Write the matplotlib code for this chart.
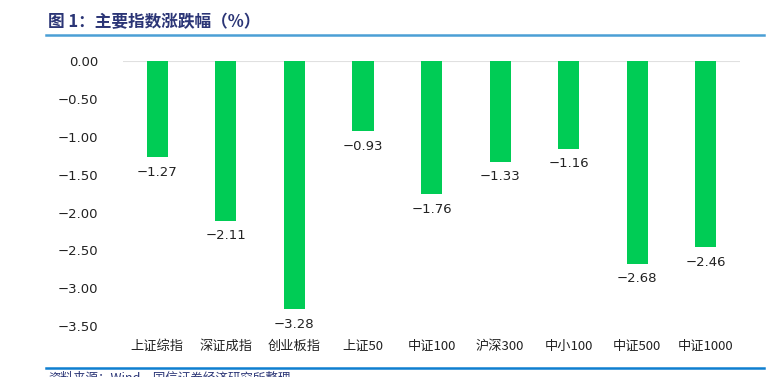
import matplotlib.pyplot as plt
from matplotlib.lines import Line2D

plt.rcParams['font.family'] = ['Noto Sans CJK SC', 'DejaVu Sans']
plt.rcParams['axes.unicode_minus'] = True

# 主要指数涨跌幅数据
categories = ['上证综指', '深证成指', '创业板指', '上证50', '中证100',
              '沪深300', '中小100', '中证500', '中证1000']
changes = [-1.27, -2.11, -3.28, -0.93, -1.76, -1.33, -1.16, -2.68, -2.46]
yticks = [0, -0.5, -1.0, -1.5, -2.0, -2.5, -3.0, -3.5]


def fmt(v):
    s = f'{v:.2f}'
    return s.replace('-', '\u2212') if v < 0 else s


fig = plt.figure(figsize=(7.75, 3.77), dpi=100)
ax = fig.add_axes([0.1587, 0.135, 0.7963, 0.703])

x = range(len(categories))
ax.bar(x, changes, width=0.31, color='#00CC55', zorder=2)
ax.axhline(0, color='#E0E0E0', linewidth=1.5, zorder=1)

for i, v in zip(x, changes):
    ax.annotate(fmt(v), (i, v), xytext=(0, -6), textcoords='offset points',
                ha='center', va='top', fontsize=9.5, color='#222222',
                family=['DejaVu Sans'])

ax.set_xlim(-0.5, len(categories) - 0.5)
ax.set_ylim(-3.5, 0)
ax.set_yticks(yticks)
ax.set_yticklabels([fmt(t) for t in yticks], fontsize=9.5, color='#222222',
                   family=['DejaVu Sans'])
ax.set_xticks(list(x))
ax.set_xticklabels(categories, fontsize=9.5, color='#222222')
ax.tick_params(axis='both', length=0)
ax.tick_params(axis='y', pad=18)
ax.tick_params(axis='x', pad=10)
for s in ax.spines.values():
    s.set_visible(False)

# 标题和上下分隔线
fig.text(48 / 775, 1 - 22 / 377, '图 1：主要指数涨跌幅（%）', fontsize=12,
         fontweight='bold', color='#2B3576', va='center', ha='left')
fig.add_artist(Line2D([46 / 775, 764 / 775], [1 - 35 / 377, 1 - 35 / 377],
                      color='#4A9FD5', linewidth=1.8))
fig.add_artist(Line2D([46 / 775, 764 / 775], [1 - 368 / 377, 1 - 368 / 377],
                      color='#0F7FD0', linewidth=1.8))
fig.text(48 / 775, 1 - 372 / 377, '资料来源：Wind，国信证券经济研究所整理',
         fontsize=9, color='#2B3576', va='top', ha='left')

fig.savefig('out.png', dpi=100)
